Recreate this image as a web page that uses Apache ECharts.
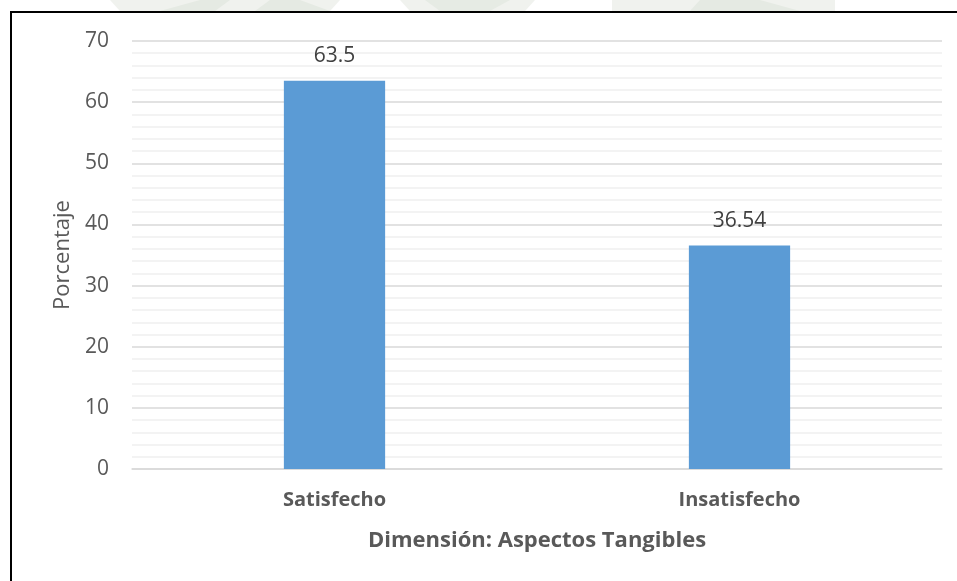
<!DOCTYPE html>
<html>
<head>
<meta charset="utf-8">
<script src="https://cdn.jsdelivr.net/npm/echarts@6/dist/echarts.min.js"></script>
<style>
  html, body { margin: 0; padding: 0; background: #ffffff; }
  #chart { width: 957px; height: 581px; }
</style>
</head>
<body>
<div id="chart"></div>
<script>
// Categories and percentage per category
const categories = ['Satisfecho', 'Insatisfecho'];
const porcentajes = [63.5, 36.54];
// Value axis range
const yMin = 0;
const yMax = 70;
const yStep = 10;

const chart = echarts.init(document.getElementById('chart'), null, { renderer: 'canvas' });

const FONT = '"Open Sans", sans-serif';

chart.setOption({
  backgroundColor: '#ffffff',
  animation: false,
  grid: { left: 132, right: 15, top: 41, bottom: 112, containLabel: false },
  xAxis: {
    type: 'category',
    data: categories,
    name: 'Dimensión: Aspectos Tangibles',
    nameLocation: 'middle',
    nameGap: 61,
    nameTextStyle: { fontFamily: FONT, fontSize: 22, fontWeight: 'bold', color: '#595959' },
    axisLine: { show: true, lineStyle: { color: '#d9d9d9', width: 1.5 } },
    axisTick: { show: false },
    axisLabel: { fontFamily: FONT, fontSize: 20, fontWeight: 'bold', color: '#595959', margin: 21 },
    splitLine: { show: false }
  },
  yAxis: {
    type: 'value',
    min: yMin,
    max: yMax,
    interval: yStep,
    name: 'Porcentaje',
    nameLocation: 'middle',
    nameGap: 58,
    nameRotate: 90,
    nameTextStyle: { fontFamily: FONT, fontSize: 22, color: '#595959' },
    axisLine: { show: false },
    axisTick: { show: false },
    axisLabel: { fontFamily: FONT, fontSize: 21, color: '#595959', margin: 23 },
    splitLine: { show: true, lineStyle: { color: '#d9d9d9', width: 1.5 } },
    minorTick: { show: false, splitNumber: 5 },
    minorSplitLine: { show: true, lineStyle: { color: '#f0f0f0', width: 1.5 } }
  },
  series: [{
    type: 'bar',
    data: porcentajes,
    barWidth: '25%',
    itemStyle: { color: '#5b9bd5' },
    label: {
      show: true,
      position: 'top',
      distance: 14,
      fontFamily: FONT,
      fontSize: 21,
      color: '#404040'
    }
  }],
  graphic: [
    // faint emblem shapes along the top edge
    { type: 'polygon', silent: true, z: -1, shape: { points: [[110, 0], [340, 0], [330, 11], [120, 11]] }, style: { fill: '#f0f2ee' } },
    { type: 'polygon', silent: true, z: -1, shape: { points: [[160, 11], [200, 0], [230, 0], [215, 11]] }, style: { fill: '#e5eae3' } },
    { type: 'polygon', silent: true, z: -1, shape: { points: [[255, 11], [270, 0], [300, 0], [330, 11]] }, style: { fill: '#e5eae3' } },
    { type: 'polygon', silent: true, z: -1, shape: { points: [[400, 0], [535, 0], [525, 11], [410, 11]] }, style: { fill: '#f0f2ee' } },
    { type: 'polygon', silent: true, z: -1, shape: { points: [[425, 0], [510, 0], [490, 11], [440, 11]] }, style: { fill: '#e6ebe4' } },
    { type: 'polygon', silent: true, z: -1, shape: { points: [[612, 0], [835, 0], [835, 11], [612, 11]] }, style: { fill: '#f0f2ee' } },
    { type: 'polygon', silent: true, z: -1, shape: { points: [[700, 0], [760, 0], [800, 11], [690, 11]] }, style: { fill: '#e5eae3' } },
    // frame around the chart
    { type: 'rect', silent: true, z: 10, shape: { x: 11, y: 12, width: 960, height: 600 }, style: { fill: 'none', stroke: '#000000', lineWidth: 2 } }
  ]
});
</script>
</body>
</html>
